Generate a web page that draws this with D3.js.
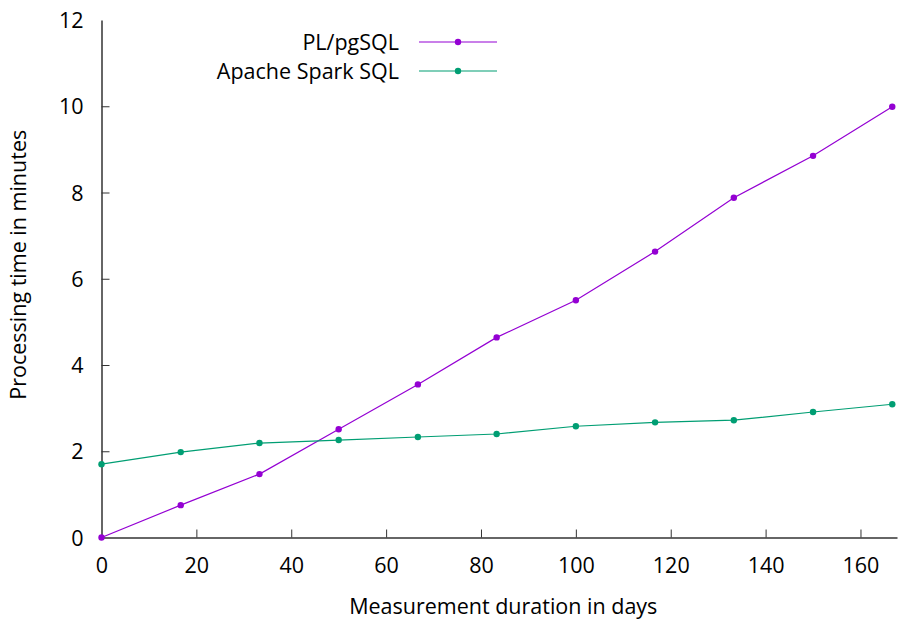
<!DOCTYPE html>
<html>
<head>
<meta charset="utf-8">
<script src="https://cdn.jsdelivr.net/npm/d3@7"></script>
<style>
  html, body { margin: 0; padding: 0; background: #fff; overflow: hidden; }
  svg { display: block; }
  svg text { font-family: "Open Sans", sans-serif; fill: #000; }
</style>
</head>
<body>
<svg id="chart" width="898" height="621"></svg>
<script>
// measurement duration in days
const days = [0, 16.7, 33.3, 50, 66.7, 83.3, 100, 116.7, 133.3, 150, 166.7];
// processing time in minutes
const pgsql = [0, 0.75, 1.47, 2.51, 3.55, 4.64, 5.50, 6.63, 7.88, 8.85, 9.99];
const spark = [1.70, 1.98, 2.19, 2.26, 2.33, 2.40, 2.58, 2.67, 2.72, 2.91, 3.09];
const xTicks = [0, 20, 40, 60, 80, 100, 120, 140, 160];
const yTicks = [0, 2, 4, 6, 8, 10, 12];

const series = [
  { name: "PL/pgSQL", color: "#9400d3", values: pgsql },
  { name: "Apache Spark SQL", color: "#009e73", values: spark }
];

const FONT = "21.5px";

const chart = d3.select("#chart");
const margin = { left: 101.5, right: 1, top: 20, bottom: 83.5 };
const innerWidth = 898 - margin.left - margin.right;
const innerHeight = 621 - margin.top - margin.bottom;

const xScale = d3.scaleLinear().domain([0, 167.7]).range([0, innerWidth]);
const yScale = d3.scaleLinear().domain([0, 12]).range([innerHeight, 0]);

const g = chart.append("g")
  .attr("transform", `translate(${margin.left},${margin.top})`);

// axes (gnuplot style: inward ticks, only left & bottom border)
const xAxis = d3.axisBottom(xScale).tickValues(xTicks).tickSize(-8).tickSizeOuter(0);
const yAxis = d3.axisLeft(yScale).tickValues(yTicks).tickSize(-8).tickSizeOuter(0);

const xAxisG = g.append("g").attr("transform", `translate(0,${innerHeight})`).call(xAxis);
const yAxisG = g.append("g").call(yAxis);

[xAxisG, yAxisG].forEach(a => {
  a.select(".domain").attr("stroke", "#333").attr("stroke-width", 1.5);
  a.selectAll(".tick line").attr("stroke", "#333").attr("stroke-width", 1);
  a.selectAll(".tick text").attr("font-size", FONT).attr("font-family", "Open Sans").attr("fill", "#000");
});
// place labels with explicit baselines instead of em offsets
xAxisG.selectAll(".tick text").attr("dy", null).attr("y", 35);
yAxisG.selectAll(".tick text").attr("dy", null).attr("x", -18).attr("y", 7.5);
yAxisG.selectAll(".tick line").filter(d => d === 0 || d === 12).remove();
xAxisG.selectAll(".tick line").filter(d => d === 0).remove();

g.append("text")
  .text("Measurement duration in days")
  .attr("x", innerWidth / 2 + 4)
  .attr("y", innerHeight + 76)
  .attr("text-anchor", "middle")
  .attr("font-size", FONT);

g.append("text")
  .text("Processing time in minutes")
  .attr("transform", `translate(${-76},${innerHeight / 2 - 14}) rotate(-90)`)
  .attr("text-anchor", "middle")
  .attr("font-size", FONT);

// lines and points
const line = d3.line()
  .x((d, i) => xScale(days[i]))
  .y(d => yScale(d));

series.forEach(s => {
  g.append("path")
    .datum(s.values)
    .attr("fill", "none")
    .attr("stroke", s.color)
    .attr("stroke-width", 1.2)
    .attr("d", line);

  g.selectAll(null)
    .data(s.values).enter()
    .append("circle")
    .attr("cx", (d, i) => xScale(days[i]))
    .attr("cy", d => yScale(d))
    .attr("r", 3.2)
    .attr("fill", s.color);
});

// legend
const legend = chart.append("g");
series.forEach((s, i) => {
  const y = 42 + i * 29;
  legend.append("text")
    .text(s.name)
    .attr("x", 399)
    .attr("y", y + 7.5)
    .attr("text-anchor", "end")
    .attr("font-size", FONT);
  legend.append("line")
    .attr("x1", 419).attr("x2", 497)
    .attr("y1", y).attr("y2", y)
    .attr("stroke", s.color)
    .attr("stroke-width", 1.2);
  legend.append("circle")
    .attr("cx", 458).attr("cy", y)
    .attr("r", 3.2)
    .attr("fill", s.color);
});
</script>
</body>
</html>
